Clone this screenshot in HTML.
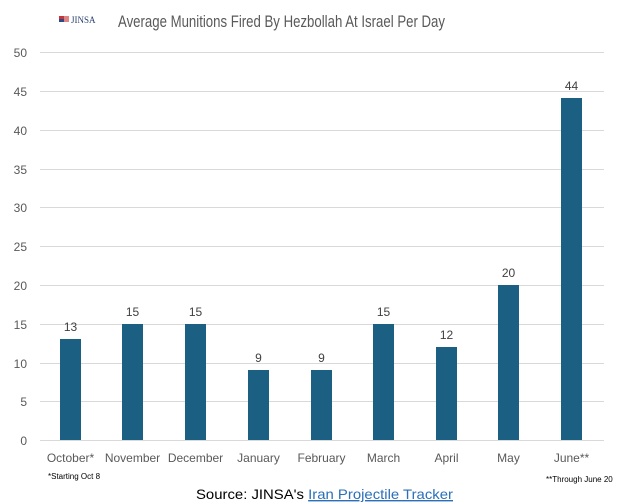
<!DOCTYPE html>
<html><head><style>body{margin:0;background:#fff}svg{display:block}</style></head><body>
<svg width="626" height="504" xmlns="http://www.w3.org/2000/svg" font-family="Liberation Sans, sans-serif">
<rect width="626" height="504" fill="#fff"/>
<rect x="59" y="16" width="5" height="3" fill="#c33"/><rect x="59" y="19" width="5" height="3" fill="#2a4a8a"/><rect x="64" y="16" width="5" height="6" fill="#c33" opacity="0.6"/>
<text x="71" y="23" font-family="Liberation Serif, serif" font-size="9" fill="#2a3f73">JINSA</text>
<text x="118" y="27" font-size="17" fill="#595959" textLength="327" lengthAdjust="spacingAndGlyphs">Average Munitions Fired By Hezbollah At Israel Per Day</text>
<g stroke="#d9d9d9" stroke-width="1">
<line x1="40" x2="604" y1="52.5" y2="52.5"/><line x1="40" x2="604" y1="91.5" y2="91.5"/><line x1="40" x2="604" y1="130.5" y2="130.5"/><line x1="40" x2="604" y1="169.5" y2="169.5"/><line x1="40" x2="604" y1="207.5" y2="207.5"/><line x1="40" x2="604" y1="246.5" y2="246.5"/><line x1="40" x2="604" y1="285.5" y2="285.5"/><line x1="40" x2="604" y1="324.5" y2="324.5"/><line x1="40" x2="604" y1="363.5" y2="363.5"/><line x1="40" x2="604" y1="401.5" y2="401.5"/><line x1="40" x2="604" y1="440.5" y2="440.5"/>
</g>
<g font-size="12" fill="#595959" text-anchor="end">
<text x="27" y="57">50</text><text x="27" y="96">45</text><text x="27" y="135">40</text><text x="27" y="174">35</text><text x="27" y="212">30</text><text x="27" y="251">25</text><text x="27" y="290">20</text><text x="27" y="329">15</text><text x="27" y="368">10</text><text x="27" y="406">5</text><text x="27" y="445">0</text>
</g>
<g fill="#1b5f82">
<rect x="60" y="339" width="21" height="101"/><rect x="122" y="324" width="21" height="116"/><rect x="185" y="324" width="21" height="116"/><rect x="248" y="370" width="21" height="70"/><rect x="311" y="370" width="21" height="70"/><rect x="373" y="324" width="21" height="116"/><rect x="436" y="347" width="21" height="93"/><rect x="498" y="285" width="21" height="155"/><rect x="561" y="98" width="21" height="342"/>
</g>
<g font-size="12" fill="#404040" text-anchor="middle">
<text x="70.5" y="331">13</text><text x="132.5" y="316">15</text><text x="195.5" y="316">15</text><text x="258.5" y="362">9</text><text x="321.5" y="362">9</text><text x="383.5" y="316">15</text><text x="446.5" y="339">12</text><text x="508.5" y="277">20</text><text x="571.5" y="90">44</text>
</g>
<g font-size="12" fill="#595959" text-anchor="middle">
<text x="70.5" y="462">October*</text><text x="132.5" y="462">November</text><text x="195.5" y="462">December</text><text x="258.5" y="462">January</text><text x="321.5" y="462">February</text><text x="383.5" y="462">March</text><text x="446.5" y="462">April</text><text x="508.5" y="462">May</text><text x="571.5" y="462">June**</text>
</g>
<text x="48" y="479" font-size="8" fill="#000">*Starting Oct 8</text>
<text x="546" y="482" font-size="8" fill="#000">**Through June 20</text>
<text x="196" y="499" font-size="14" fill="#000" textLength="257" lengthAdjust="spacingAndGlyphs">Source: JINSA's <tspan fill="#2a6fb8" text-decoration="underline">Iran Projectile Tracker</tspan></text>
</svg>
</body></html>
